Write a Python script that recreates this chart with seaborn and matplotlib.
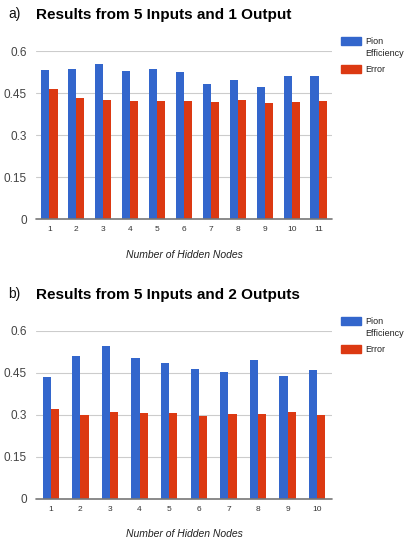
import numpy as np
import pandas as pd
import matplotlib
matplotlib.use("Agg")
import matplotlib.pyplot as plt
import seaborn as sns
from matplotlib.patches import Rectangle

# Dados
nodes_a = [1, 2, 3, 4, 5, 6, 7, 8, 9, 10, 11]
pion_a = [0.532, 0.538, 0.556, 0.530, 0.536, 0.527, 0.483, 0.499, 0.473, 0.512, 0.512]
error_a = [0.464, 0.432, 0.427, 0.421, 0.424, 0.424, 0.418, 0.427, 0.415, 0.418, 0.421]

nodes_b = [1, 2, 3, 4, 5, 6, 7, 8, 9, 10]
pion_b = [0.436, 0.508, 0.547, 0.502, 0.486, 0.463, 0.453, 0.496, 0.439, 0.460]
error_b = [0.322, 0.300, 0.309, 0.305, 0.305, 0.297, 0.302, 0.302, 0.309, 0.299]

series_names = ["Pion\nEfficiency", "Error"]
yticks = [0, 0.15, 0.3, 0.45, 0.6]
ytick_labels = ["0", "0.15", "0.3", "0.45", "0.6"]

BLUE = "#3366CC"
RED = "#DC3912"

sns.set_style("white")
plt.rcParams["font.family"] = ["Liberation Sans", "DejaVu Sans"]

W, H = 405, 543
fig = plt.figure(figsize=(W / 100, H / 100), dpi=100)


def long_df(nodes, pion, error):
    return pd.DataFrame({
        "node": [str(n) for n in nodes] * 2,
        "series": [series_names[0]] * len(nodes) + [series_names[1]] * len(nodes),
        "value": list(pion) + list(error),
    })


def draw_panel(rect, nodes, pion, error, width, letter, title, legend_top):
    ax = fig.add_axes(rect)
    df = long_df(nodes, pion, error)
    sns.barplot(data=df, x="node", y="value", hue="series", ax=ax,
                palette=[BLUE, RED], width=width, linewidth=0,
                saturation=1, legend=False, zorder=3)
    ax.set_ylim(0, 0.6)
    ax.set_yticks(yticks)
    ax.set_yticklabels(ytick_labels)
    ax.grid(axis="y", color="#cccccc", linewidth=0.8, zorder=0)
    ax.grid(axis="x", visible=False)
    for s in ax.spines.values():
        s.set_visible(False)
    ax.axhline(0, color="#777777", linewidth=1.2, zorder=4, clip_on=False)
    ax.tick_params(axis="y", length=0, pad=6.5, labelsize=8.5, labelcolor="#444444")
    ax.tick_params(axis="x", length=0, pad=5, labelsize=6, labelcolor="#333333")
    ax.set_xlabel("Number of Hidden Nodes", fontsize=7.5, style="italic",
                  color="#222222", labelpad=12)
    ax.set_ylabel("")

    # títulos
    ty = 1 - legend_top[0] / H
    fig.text(8 / W, ty, letter, fontsize=10, va="center", ha="left", color="#111111")
    fig.text(36 / W, ty - 1 / H, title, fontsize=11, fontweight="bold",
             va="center", ha="left", color="#000000")

    # legenda
    y0 = legend_top[1]
    for i, (name, col) in enumerate(zip(series_names, [BLUE, RED])):
        top = y0 + i * 28
        fig.patches.append(Rectangle((341 / W, 1 - (top + 8) / H), 20 / W, 8 / H,
                                     transform=fig.transFigure, color=col))
        for j, line in enumerate(name.split("\n")):
            fig.text(365 / W, 1 - (top + 4 + j * 12.5) / H, line, fontsize=6.5,
                     va="center", ha="left", color="#222222")
    return ax


axl, axw = 36 / W, 296 / W
axh = 168 / H
draw_panel([axl, 1 - 219.3 / H, axw, axh], nodes_a, pion_a, error_a, 0.6,
           "a)", "Results from 5 Inputs and 1 Output", (14, 37))
draw_panel([axl, 1 - 498.7 / H, axw, axh], nodes_b, pion_b, error_b, 0.55,
           "b)", "Results from 5 Inputs and 2 Outputs", (294, 317))

fig.savefig("out.png", dpi=100)
